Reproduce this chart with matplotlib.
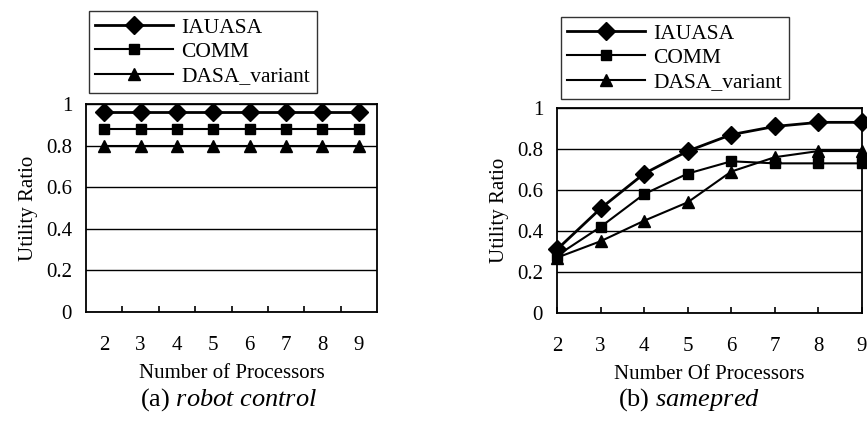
import numpy as np
import matplotlib
matplotlib.use("Agg")
import matplotlib.pyplot as plt

plt.rcParams['font.family'] = ['Liberation Serif', 'DejaVu Serif']
plt.rcParams['mathtext.fontset'] = 'custom'
plt.rcParams['mathtext.rm'] = 'Liberation Serif'
plt.rcParams['mathtext.it'] = 'Liberation Serif:italic'

# data
processors = [2, 3, 4, 5, 6, 7, 8, 9]
names = ['IAUASA', 'COMM', 'DASA_variant']

# (a) robot control
robot_iauasa = [0.96, 0.96, 0.96, 0.96, 0.96, 0.96, 0.96, 0.96]
robot_comm = [0.88, 0.88, 0.88, 0.88, 0.88, 0.88, 0.88, 0.88]
robot_dasa = [0.80, 0.80, 0.80, 0.80, 0.80, 0.80, 0.80, 0.80]

# (b) samepred
same_iauasa = [0.31, 0.51, 0.68, 0.79, 0.87, 0.91, 0.93, 0.93]
same_comm = [0.28, 0.42, 0.58, 0.68, 0.74, 0.73, 0.73, 0.73]
same_dasa = [0.27, 0.35, 0.45, 0.54, 0.69, 0.76, 0.79, 0.79]

yticks = [0, 0.2, 0.4, 0.6, 0.8, 1]
ytick_labels = ['0', '0.2', '0.4', '0.6', '0.8', '1']

markers = ['D', 's', '^']
msizes = [9, 7.5, 8.5]
lwidths = [2.0, 1.5, 1.5]
fs_tick = 15
fs_leg = 15.5
fs_lab = 15

fig = plt.figure(figsize=(8.67, 4.22), dpi=100)
W, H = 867, 422


def px_axes(l, t, r, b):
    return fig.add_axes([l / W, (H - b) / H, (r - l) / W, (b - t) / H])


def style(ax):
    ax.set_ylim(0, 1)
    ax.set_yticks(yticks)
    ax.set_yticklabels(ytick_labels, fontsize=fs_tick)
    ax.tick_params(axis='y', length=0, pad=10)
    ax.grid(axis='y', color='black', linewidth=1.0)
    ax.set_axisbelow(True)
    for s in ax.spines.values():
        s.set_color('black')
        s.set_linewidth(1.3)
    ax.set_ylabel('Utility Ratio', fontsize=fs_tick, labelpad=6)


def legend(ax, x, y):
    leg = ax.legend(loc='upper left', bbox_to_anchor=(x / W, 1 - y / H),
                    bbox_transform=fig.transFigure, fontsize=fs_leg,
                    frameon=True, fancybox=False, edgecolor='black',
                    handlelength=3.6, borderpad=0.3, labelspacing=0.2,
                    borderaxespad=0, handletextpad=0.4)
    leg.get_frame().set_linewidth(1.0)
    return leg


# panel (a)
ax1 = px_axes(86, 104, 377, 312)
style(ax1)
for ys, m, ms, lw, nm in zip([robot_iauasa, robot_comm, robot_dasa],
                             markers, msizes, lwidths, names):
    ax1.plot(processors, ys, color='black', marker=m, markersize=ms,
             linewidth=lw, label=nm)
ax1.set_xlim(1.5, 9.5)
ax1.set_xticks(processors)
ax1.set_xticklabels([str(p) for p in processors], fontsize=fs_tick)
ax1.set_xticks(np.arange(2.5, 9, 1), minor=True)
ax1.tick_params(axis='x', which='major', length=0, pad=17)
ax1.tick_params(axis='x', which='minor', direction='in', length=4,
                width=1.2)
ax1.set_xlabel('Number of Processors', fontsize=fs_lab, labelpad=7)
legend(ax1, 89, 11)
fig.text(228 / W, 1 - 400 / H, r'(a) $\it{robot\ control}$',
         fontsize=19, ha='center', va='center')

# panel (b)
ax2 = px_axes(557, 108, 862, 313)
style(ax2)
for ys, m, ms, lw, nm in zip([same_iauasa, same_comm, same_dasa],
                             markers, msizes, lwidths, names):
    ax2.plot(processors, ys, color='black', marker=m, markersize=ms,
             linewidth=lw, label=nm, clip_on=False)
ax2.set_xlim(2, 9)
ax2.set_xticks(processors)
ax2.set_xticklabels([str(p) for p in processors], fontsize=fs_tick)
ax2.tick_params(axis='x', direction='in', length=4, width=1.2, pad=17)
ax2.set_xlabel('Number Of Processors', fontsize=fs_lab, labelpad=7)
legend(ax2, 561, 17)
fig.text(689 / W, 1 - 400 / H, r'(b) $\it{samepred}$',
         fontsize=19, ha='center', va='center')

fig.savefig('out.png', dpi=100)
